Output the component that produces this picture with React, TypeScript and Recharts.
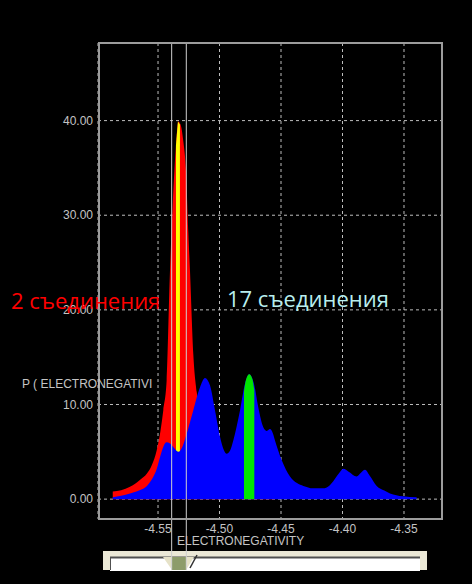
import React from 'react';
import { ComposedChart, Area, XAxis, YAxis, CartesianGrid, ReferenceLine } from 'recharts';

// values: [electronegativity, P]
const redCurve: [number, number][] = [
  [-4.5868, 0.8], [-4.58, 0.95], [-4.5728, 1.3], [-4.565, 2.0], [-4.559, 2.7],
  [-4.555, 3.6], [-4.551, 5.2], [-4.548, 7.2], [-4.5457, 9.4], [-4.543, 12.5],
  [-4.5403, 24], [-4.538, 31.3], [-4.5354, 37.4], [-4.5335, 39.9], [-4.5315, 39.5],
  [-4.5294, 37.8], [-4.5272, 34.6], [-4.5254, 28.3], [-4.524, 24.1], [-4.5213, 15.3],
  [-4.5185, 11.3], [-4.514, 8], [-4.508, 5], [-4.5, 3], [-4.49, 1.5],
  [-4.475, 0.6], [-4.455, 0.2],
];

const yellowBand: [number, number][] = [
  [-4.5354, 37.4], [-4.5338, 39.9], [-4.5322, 39.6],
];

const blueCurve: [number, number][] = [
  [-4.5868, 0.2], [-4.58, 0.35], [-4.5728, 0.6], [-4.565, 0.95], [-4.559, 1.4],
  [-4.5545, 2.2], [-4.551, 3.2], [-4.548, 4.6], [-4.5455, 5.6], [-4.543, 6.0],
  [-4.5405, 5.9], [-4.5376, 5.5], [-4.5335, 5.0], [-4.53, 5.6], [-4.5267, 6.9],
  [-4.5213, 9.4], [-4.5159, 11.8], [-4.5118, 12.8], [-4.5077, 12.0], [-4.5037, 9.4],
  [-4.4996, 6.6], [-4.4965, 5.2], [-4.4942, 4.8], [-4.4915, 5.1], [-4.4888, 6.2],
  [-4.4833, 9.4], [-4.4793, 12.2], [-4.4758, 13.2], [-4.472, 12.2], [-4.4685, 9.7],
  [-4.4644, 7.6], [-4.4615, 7.2], [-4.459, 7.4], [-4.4565, 6.9], [-4.4549, 6.2],
  [-4.4494, 4.1], [-4.4427, 2.4], [-4.437, 1.7], [-4.4318, 1.4], [-4.424, 1.15],
  [-4.4156, 1.15], [-4.411, 1.4], [-4.4075, 1.9], [-4.403, 2.7], [-4.3993, 3.2],
  [-4.395, 2.9], [-4.3885, 2.4], [-4.385, 2.8], [-4.3817, 3.1], [-4.378, 2.5],
  [-4.3722, 1.4], [-4.366, 0.9], [-4.3614, 0.6], [-4.351, 0.3], [-4.3397, 0.2],
];

const greenBand: [number, number][] = [
  [-4.4801, 11.4], [-4.4785, 12.6], [-4.4758, 13.2], [-4.4733, 12.7], [-4.4717, 11.5],
];

const xTicks = [-4.55, -4.5, -4.45, -4.4, -4.35];
const yTicks = [0, 10, 20, 30, 40];
const xDomain: [number, number] = [-4.5988, -4.3191];
const yDomain: [number, number] = [-2.1, 48.2];

// selected range (the two thin lines / slider thumb)
const rangeLow = -4.5389;
const rangeHigh = -4.527;

const buildRows = () => {
  const map = new Map<number, any>();
  const add = (pts: [number, number][], key: string) => {
    pts.forEach(([x, p]) => {
      const row = map.get(x) || { x };
      row[key] = p;
      map.set(x, row);
    });
  };
  add(redCurve, 'red');
  add(yellowBand, 'yellow');
  add(blueCurve, 'blue');
  add(greenBand, 'green');
  return [...map.values()].sort((a, b) => a.x - b.x);
};

const rows = buildRows();

const tickStyle = { fill: '#c4c4c4', fontSize: 12, fontFamily: 'Liberation Sans, Arial, sans-serif' };

const Slider = () => (
  <svg width={472} height={40} style={{ position: 'absolute', left: 0, top: 544 }}>
    <rect x={103} y={7} width={324} height={19} fill="#ebe8d6" />
    <rect x={110} y={13} width={310} height={14} fill="#ffffff" />
    <line x1={110} y1={13.5} x2={420} y2={13.5} stroke="#505050" strokeWidth={2} />
    <line x1={110.5} y1={13} x2={110.5} y2={26} stroke="#505050" />
    <polygon points="163,13 172,13 172,26" fill="#e6e2c8" />
    <rect x={172} y={13} width={14} height={13} fill="#8d9c6a" />
    <polygon points="186,13 194,13 186,26" fill="#e6e2c8" />
    <line x1={197} y1={11} x2={190} y2={24} stroke="#303030" strokeWidth={1.5} />
  </svg>
);

export default function App() {
  return (
    <div style={{ position: 'absolute', left: 0, top: 0, width: 472, height: 584, background: '#000', overflow: 'hidden' }}>
      <Slider />
      <div style={{ position: 'absolute', left: 0, top: 0 }}>
        <ComposedChart width={472} height={584} data={rows} margin={{ top: 43, right: 30, bottom: 35, left: 38 }}>
          <CartesianGrid stroke="#bdbdbd" strokeDasharray="3 3" />
          <XAxis
            dataKey="x"
            type="number"
            domain={xDomain}
            ticks={xTicks}
            allowDataOverflow
            axisLine={false}
            tickLine={false}
            tickSize={0}
            tickMargin={5}
            height={30}
            tick={tickStyle}
            tickFormatter={(v: number) => v.toFixed(2)}
          />
          <YAxis
            type="number"
            domain={yDomain}
            ticks={yTicks}
            allowDataOverflow
            axisLine={false}
            tickLine={false}
            tickSize={0}
            tickMargin={5}
            width={60}
            tick={tickStyle}
            tickFormatter={(v: number) => v.toFixed(2)}
          />
          <Area type="monotone" dataKey="red" baseValue={0} stroke="none" fill="#ff0000" fillOpacity={1} connectNulls dot={false} activeDot={false} isAnimationActive={false} />
          <Area type="linear" dataKey="yellow" baseValue={0} stroke="none" fill="#ffff00" fillOpacity={1} connectNulls dot={false} activeDot={false} isAnimationActive={false} />
          <Area type="monotone" dataKey="blue" baseValue={0} stroke="none" fill="#0000ff" fillOpacity={1} connectNulls dot={false} activeDot={false} isAnimationActive={false} />
          <Area type="monotone" dataKey="green" baseValue={0} stroke="none" fill="#00e600" fillOpacity={1} connectNulls dot={false} activeDot={false} isAnimationActive={false} />
          <ReferenceLine segment={[{ x: rangeLow, y: -7.5 }, { x: rangeLow, y: yDomain[1] }]} stroke="#cfcfcf" ifOverflow="visible" />
          <ReferenceLine segment={[{ x: rangeHigh, y: -7.5 }, { x: rangeHigh, y: yDomain[1] }]} stroke="#cfcfcf" ifOverflow="visible" />
        </ComposedChart>
      </div>
      <div style={{ position: 'absolute', left: 98, top: 42, width: 345, height: 478, border: '2px solid #9c9c9c', boxSizing: 'border-box' }} />
      <div style={{ position: 'absolute', left: 22, top: 377, color: '#c4c4c4', fontSize: 12, fontFamily: 'Liberation Sans, Arial, sans-serif', whiteSpace: 'nowrap' }}>
        P ( ELECTRONEGATIVI
      </div>
      <div style={{ position: 'absolute', left: 177, top: 534, color: '#c4c4c4', fontSize: 12, fontFamily: 'Liberation Sans, Arial, sans-serif', whiteSpace: 'nowrap' }}>
        ELECTRONEGATIVITY
      </div>
      <div style={{ position: 'absolute', left: 11, top: 285, color: '#ff0000', fontSize: 22, fontFamily: '"Open Sans", sans-serif', whiteSpace: 'nowrap', lineHeight: '30px' }}>
        2 съединения
      </div>
      <div style={{ position: 'absolute', left: 227, top: 283, color: '#b8eeee', fontSize: 22, fontFamily: '"Open Sans", sans-serif', whiteSpace: 'nowrap', lineHeight: '30px' }}>
        17 съединения
      </div>
    </div>
  );
}
